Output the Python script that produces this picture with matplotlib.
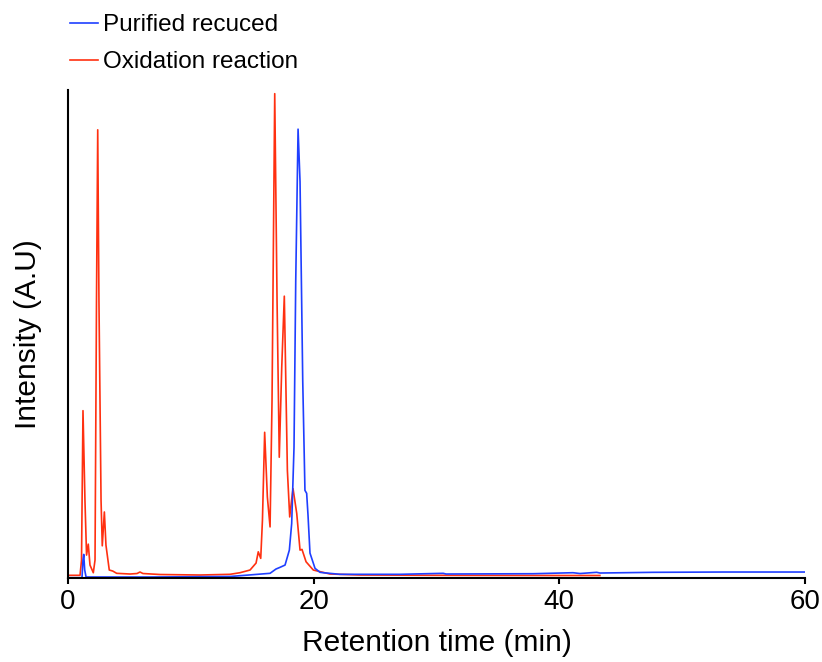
import matplotlib
matplotlib.use("Agg")
import matplotlib.pyplot as plt

plt.rcParams['font.family'] = ['Liberation Sans', 'DejaVu Sans']

# ---------------- Data ----------------
# Oxidation reaction trace: retention time (min) and intensity (A.U)
red_time = [0.0, 0.98, 1.10, 1.22, 1.38, 1.51, 1.65, 1.79, 2.06, 2.20,
            2.32, 2.42, 2.52, 2.69, 2.79, 2.96, 3.09, 3.36, 3.64, 3.96,
            5.05, 5.62, 5.86, 6.10, 7.49, 10.75, 13.19, 14.0, 14.82, 15.31,
            15.49, 15.69, 15.83, 16.01, 16.23, 16.45, 16.61, 16.83, 17.02, 17.20,
            17.40, 17.61, 17.86, 18.05, 18.20, 18.32, 18.62, 18.89, 19.05, 19.38,
            19.97, 21.33, 23.77, 29.7, 40.05, 43.3]
red_int = [2.7, 2.7, 18, 168, 78, 23, 34, 13, 5.3, 18,
           278, 450, 278, 78, 32.3, 66.3, 33, 8, 7, 4.7,
           4, 4.5, 6, 4.5, 3.5, 3, 3.7, 5.3, 8, 15,
           26.3, 19.7, 58, 146.3, 81.3, 51.3, 178, 486.3, 278, 121.3,
           211.3, 283, 108, 61.3, 78, 89.7, 65, 28, 28.7, 16.3,
           8, 4, 3, 2.7, 2.5, 2.5]

# Purified reduced trace
blue_time = [0.0, 1.14, 1.22, 1.28, 1.36, 1.47, 6.68, 13.19, 16.45, 16.93,
             17.26, 17.67, 18.02, 18.21, 18.40, 18.54, 18.73, 18.89, 19.11, 19.29,
             19.43, 19.54, 19.70, 20.11, 20.52, 20.78, 22.14, 27.03, 30.55, 30.77,
             37.86, 41.11, 41.68, 43.04, 43.31, 47.63, 53.32, 60.0]
blue_int = [0.3, 0.3, 18, 23.7, 8, 1, 1, 1.5, 4.7, 9,
            10.7, 13, 28, 54.7, 131.3, 298, 450.7, 398, 198, 88,
            85, 63, 25, 9.7, 5.7, 5.3, 3.7, 3.7, 4.7, 4,
            4.3, 5.3, 4.5, 5.7, 5, 5.7, 6, 6]

labels = ["Purified recuced", "Oxidation reaction"]
x_ticks = [0, 20, 40, 60]

# ---------------- Plot ----------------
fig = plt.figure(figsize=(8.22, 6.62), dpi=100)
ax = fig.add_axes([68 / 822, 1 - 578 / 662, 737 / 822, 488 / 662])

red_line, = ax.plot(red_time, red_int, color="#ff3010", lw=1.2)
blue_line, = ax.plot(blue_time, blue_int, color="#1f3fff", lw=1.2)

ax.set_xlim(0, 60)
ax.set_ylim(0, 490)
ax.set_xticks(x_ticks)
ax.set_yticks([])

for side in ("top", "right"):
    ax.spines[side].set_visible(False)
for side in ("left", "bottom"):
    ax.spines[side].set_linewidth(1.5)
    ax.spines[side].set_color("black")

ax.tick_params(axis="x", direction="out", length=4, width=1.5,
               labelsize=20, pad=4)
ax.set_xlabel("Retention time (min)", fontsize=21.5, labelpad=10)
ax.set_ylabel("Intensity (A.U)", fontsize=21.5, labelpad=19)

fig.legend([blue_line, red_line], labels,
           loc="upper left", bbox_to_anchor=(70 / 822, 1 - 14 / 662),
           frameon=False, fontsize=17.5, handlelength=1.15,
           handletextpad=0.2, labelspacing=0.62,
           borderpad=0, borderaxespad=0)

fig.savefig("out.png", dpi=100)
